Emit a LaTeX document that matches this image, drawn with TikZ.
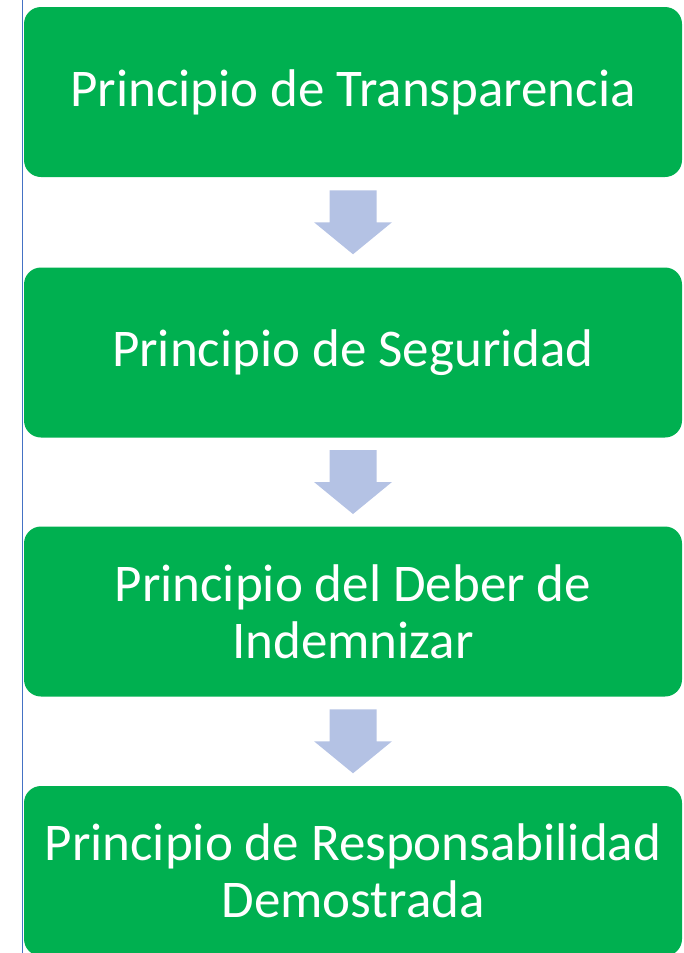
\documentclass[tikz,border=0pt]{standalone}
\usepackage{fontspec}
\setmainfont{Carlito}
\usetikzlibrary{calc}
\definecolor{boxgreen}{RGB}{0,176,80}
\definecolor{arrowblue}{RGB}{180,194,228}
\definecolor{lineblue}{RGB}{68,114,196}
\tikzset{
  principio/.style={rectangle, rounded corners=17pt, fill=boxgreen, text=white,
    minimum width=658pt, minimum height=170pt, align=center,
    font=\fontsize{53}{57}\selectfont},
  flecha/.pic={\fill[arrowblue] (-23.5,-32) -- (23.5,-32) -- (23.5,0) -- (39,0)
    -- (0,32) -- (-39,0) -- (-23.5,0) -- cycle;}
}
\begin{document}
\begin{tikzpicture}[x=1pt,y=-1pt]
\clip (0,0) rectangle (684,953);

\draw[lineblue, line width=0.8pt] (22,0) -- (22,953);

\node[principio] (trans) at (353,92) {Principio de Transparencia};
\node[principio] (seg) at (353,352.5) {Principio de Seguridad};
\node[principio] (deber) at (353,611.5) {Principio del Deber de\\Indemnizar};
\node[principio] (resp) at (353,871) {Principio de Responsabilidad\\Demostrada};

\pic at ($(trans.south)!0.5!(seg.north)$) {flecha};
\pic at ($(seg.south)!0.5!(deber.north)$) {flecha};
\pic at ($(deber.south)!0.5!(resp.north)$) {flecha};

\end{tikzpicture}
\end{document}
